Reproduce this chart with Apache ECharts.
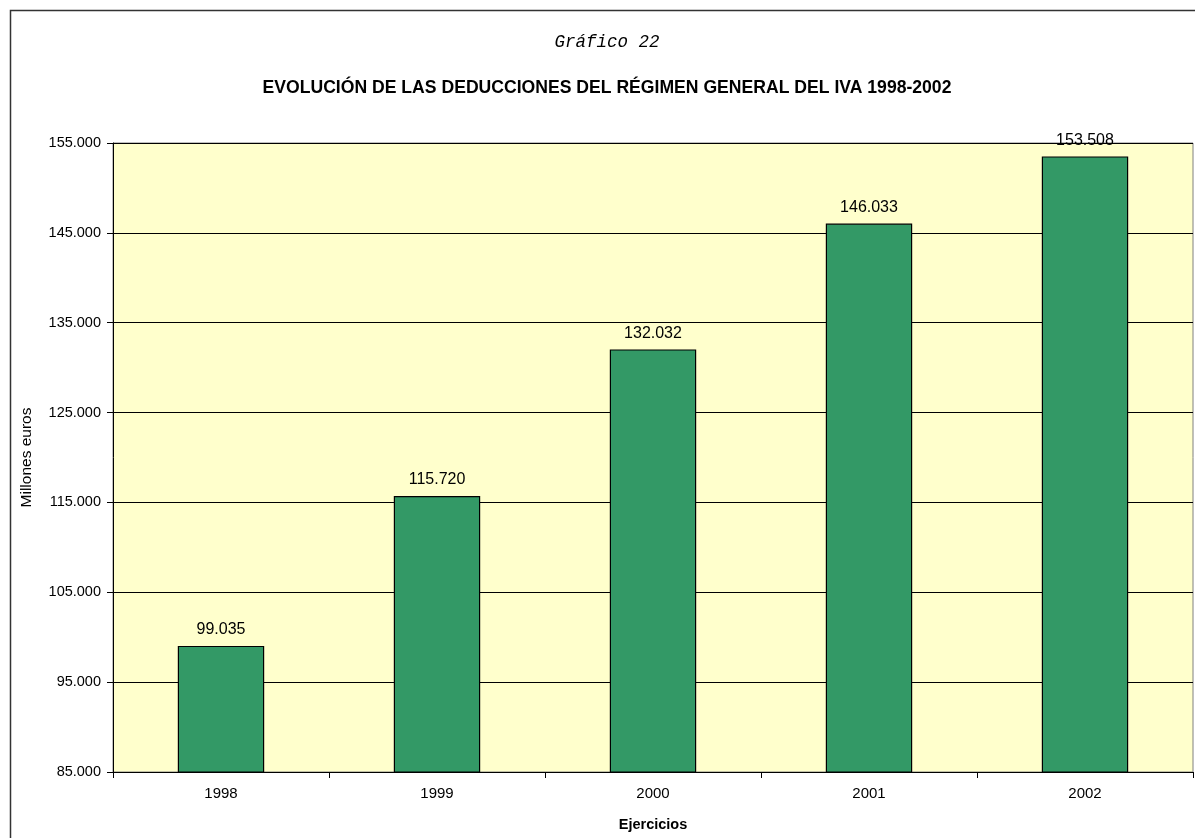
<!DOCTYPE html>
<html>
<head>
<meta charset="utf-8">
<script src="https://cdn.jsdelivr.net/npm/echarts@6/dist/echarts.min.js"></script>
<style>
  html, body { margin: 0; padding: 0; background: #fff; }
  #chart-container { width: 1195px; height: 838px; }
</style>
</head>
<body>
<div id="chart-container"></div>
<script>
var ejercicios = ['1998', '1999', '2000', '2001', '2002'];
var deducciones = [99035, 115720, 132032, 146033, 153508];
var yMin = 85000;
var yMax = 155000;
var yStep = 10000;

function fmtMiles(v) {
  return String(Math.round(v)).replace(/\B(?=(\d{3})+(?!\d))/g, '.');
}

var dom = document.getElementById('chart-container');
var myChart = echarts.init(dom, null, { renderer: 'canvas' });

var option = {
  backgroundColor: '#fff',
  animation: false,
  textStyle: { fontFamily: 'Liberation Sans, Arial, sans-serif' },
  graphic: [
    {
      type: 'rect',
      shape: { x: 10.5, y: 10.5, width: 1200, height: 840 },
      style: { fill: 'none', stroke: '#333', lineWidth: 1.5 },
      z: -1
    },
    {
      type: 'text',
      x: 607, y: 42,
      style: {
        text: 'Gráfico 22',
        font: 'italic 17.5px "Liberation Mono", "Courier New", monospace',
        fill: '#000',
        align: 'center',
        verticalAlign: 'middle'
      }
    },
    {
      type: 'text',
      x: 607, y: 88,
      style: {
        text: 'EVOLUCIÓN DE LAS DEDUCCIONES DEL RÉGIMEN GENERAL DEL IVA 1998-2002',
        font: 'bold 17.6px "Liberation Sans", Arial, sans-serif',
        fill: '#000',
        align: 'center',
        verticalAlign: 'middle'
      }
    }
  ],
  grid: {
    left: 113,
    right: 2,
    top: 143,
    bottom: 66,
    show: true,
    backgroundColor: '#FFFFCC',
    borderColor: '#808080',
    borderWidth: 1
  },
  xAxis: {
    type: 'category',
    data: ejercicios,
    name: 'Ejercicios',
    nameLocation: 'middle',
    nameGap: 45,
    nameTextStyle: { fontWeight: 'bold', fontSize: 14.5, color: '#000' },
    axisLine: { lineStyle: { color: '#000', width: 1 } },
    axisTick: { show: true, length: 6, lineStyle: { color: '#000' } },
    axisLabel: { color: '#000', fontSize: 15, margin: 14 }
  },
  yAxis: {
    type: 'value',
    min: yMin,
    max: yMax,
    interval: yStep,
    name: 'Millones euros',
    nameLocation: 'middle',
    nameGap: 78,
    nameTextStyle: { fontSize: 15.5, color: '#000' },
    axisLine: { show: true, lineStyle: { color: '#000', width: 1 } },
    axisTick: { show: true, length: 6, lineStyle: { color: '#000' } },
    axisLabel: { color: '#000', fontSize: 14.5, margin: 12, formatter: fmtMiles },
    splitLine: { show: true, lineStyle: { color: '#000', width: 1 } }
  },
  series: [
    {
      type: 'bar',
      data: deducciones,
      barWidth: '40%',
      itemStyle: { color: '#339966', borderColor: '#000', borderWidth: 1.2 },
      label: {
        show: true,
        position: 'top',
        distance: 8,
        color: '#000',
        fontSize: 16,
        formatter: function (p) { return fmtMiles(p.value); }
      }
    }
  ]
};

myChart.setOption(option);
window.addEventListener('resize', myChart.resize);
</script>
</body>
</html>
